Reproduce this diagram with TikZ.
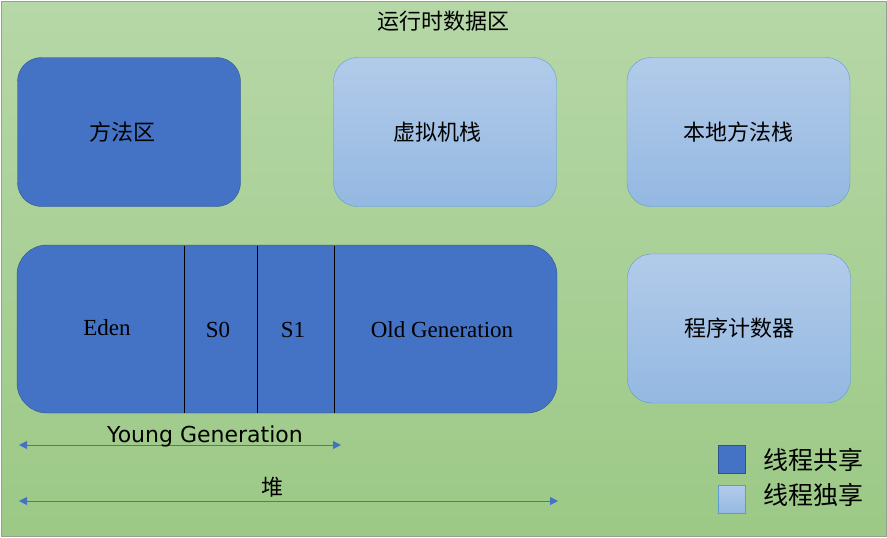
\documentclass[tikz,border=0pt]{standalone}
\usepackage{fontspec}
\setmainfont{Liberation Serif}
\newfontfamily\cjk{Noto Sans CJK SC}
\newfontfamily\latinsans{DejaVu Sans}
\usetikzlibrary{positioning, arrows.meta}
\definecolor{bgtop}{RGB}{182,215,167}
\definecolor{bgbot}{RGB}{156,201,134}
\definecolor{framegray}{RGB}{150,160,150}
\definecolor{shareblue}{HTML}{4472C4}
\definecolor{shareedge}{HTML}{2F528F}
\definecolor{privtop}{RGB}{178,203,233}
\definecolor{privbot}{RGB}{148,184,226}
\definecolor{privedge}{HTML}{5B9BD5}
\tikzset{area/.style={rounded corners=24pt, minimum width=223pt, minimum height=149pt, inner sep=0pt,
                      font=\cjk\fontsize{22}{26}\selectfont},
         sharedbox/.style={area, fill=shareblue, draw=shareedge},
         privbox/.style={area, top color=privtop, bottom color=privbot, draw=privedge},
         part/.style={font=\fontsize{23}{27}\selectfont},
         dim/.style={draw=shareblue, line width=1pt, {Triangle[length=8pt,width=8pt]}-{Triangle[length=8pt,width=8pt]}},
         key/.style={minimum width=27pt, minimum height=28pt, inner sep=0pt},
         keytext/.style={anchor=west, inner sep=0pt, font=\cjk\fontsize{25}{29}\selectfont},
        }

\begin{document}
\begin{tikzpicture}[x=1pt,y=-1pt]
        \useasboundingbox (0,0) rectangle (887,538);
        \shade[top color=bgtop, bottom color=bgbot, draw=framegray] (1,1) rectangle (886,536);
        \node[font=\cjk\fontsize{22}{26}\selectfont](title)at(443,21){运行时数据区};

        \node[sharedbox](method)at(129,132){\hspace*{-14pt}方法区};
        \node[privbox](vmstack)at(445,132){\hspace*{-16pt}虚拟机栈};
        \node[privbox](native)at(738.5,132){本地方法栈};
        \node[privbox](pc)at(739,328.5){程序计数器};

        \node[sharedbox, rounded corners=30pt, minimum width=540pt, minimum height=168pt](heap)at(287,329){};
        \foreach \x in {184,257,334}
            \draw[line width=1pt] (\x,245.5) -- (\x,412.5);
        \node[part](eden)at(107,328){Eden};
        \node[part](s0)at(218,330){S0};
        \node[part](s1)at(293,330){S1};
        \node[part](old)at(442,330){Old Generation};

        \coordinate (youngl) at (19,445);
        \coordinate (youngr) at (341,445);
        \draw[dim] (youngl) -- (youngr);
        \node[font=\latinsans\fontsize{22}{26}\selectfont](young)at(205,436){Young Generation};
        \coordinate (heapl) at (19,501);
        \coordinate (heapr) at (558,501);
        \draw[dim] (heapl) -- (heapr);
        \node[font=\cjk\fontsize{22}{26}\selectfont](heaplabel)at(272,487){堆};

        \node[key, fill=shareblue, draw=shareedge](sharedkey)at(731.5,459.5){};
        \node[key, top color=privtop, bottom color=privbot, draw=privedge](privkey)at(731.5,499.5){};
        \node[keytext](sharedtext)at(763,460){线程共享};
        \node[keytext](privtext)at(763,495){线程独享};
    \end{tikzpicture}
\end{document}
